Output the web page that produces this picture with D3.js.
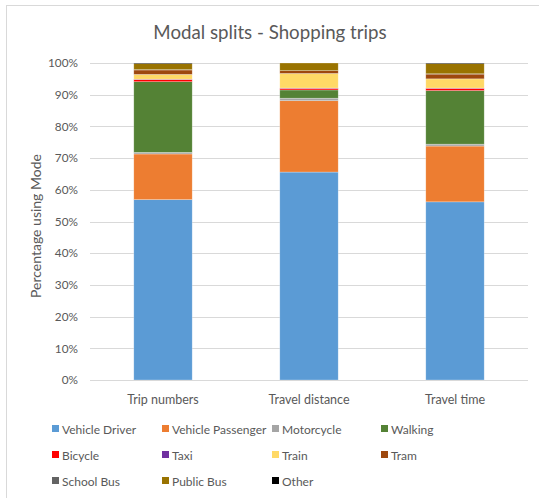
<!DOCTYPE html>
<html>
<head>
<meta charset="utf-8">
<script src="https://cdn.jsdelivr.net/npm/d3@7"></script>
<style>
  html, body { margin: 0; padding: 0; background: #fff; }
  svg { display: block; font-family: Lato, "Open Sans", sans-serif; }
</style>
</head>
<body>
<svg id="chart" width="539" height="498"></svg>
<script>
// Measures shown on the x axis
const categories = ["Trip numbers", "Travel distance", "Travel time"];

// Mode names, stacked bottom to top
const modes = ["Vehicle Driver", "Vehicle Passenger", "Motorcycle", "Walking", "Bicycle",
               "Taxi", "Train", "Tram", "School Bus", "Public Bus", "Other"];

// Percentage share per mode, one value per category
const vehicleDriver    = [56.9, 65.6, 56.2];
const vehiclePassenger = [14.4, 22.5, 17.6];
const motorcycle       = [0.5, 0.8, 0.6];
const walking          = [22.3, 2.6, 16.9];
const bicycle          = [0.7, 0.5, 0.7];
const taxi             = [0.1, 0.1, 0.1];
const train            = [1.5, 4.6, 2.9];
const tram             = [1.4, 0.9, 1.5];
const schoolBus        = [0.1, 0.0, 0.1];
const publicBus        = [1.9, 2.4, 3.2];
const other            = [0.2, 0.0, 0.2];

const yTicks = [0, 10, 20, 30, 40, 50, 60, 70, 80, 90, 100];

const colors = ["#5B9BD5", "#ED7D31", "#A5A5A5", "#548235", "#FF0000",
                "#7030A0", "#FFD966", "#9E480E", "#636363", "#997300", "#000000"];

const seriesValues = [vehicleDriver, vehiclePassenger, motorcycle, walking, bicycle,
                      taxi, train, tram, schoolBus, publicBus, other];

const rows = categories.map((c, i) => {
  const r = { category: c };
  modes.forEach((m, k) => { r[m] = seriesValues[k][i]; });
  return r;
});

const svg = d3.select("#chart");
const textColor = "#595959";
const fontFamily = "Lato, 'Open Sans', sans-serif";

// chart frame
svg.append("rect")
  .attr("x", 6.5).attr("y", 5.5).attr("width", 560).attr("height", 520)
  .attr("fill", "none").attr("stroke", "#d9d9d9").attr("stroke-width", 1);

const x = d3.scaleBand().domain(categories).range([90, 528]).paddingInner(0.6).paddingOuter(0.3);
const y = d3.scaleLinear().domain([0, 100]).range([380, 63]);

// title
svg.append("text")
  .attr("x", 270).attr("y", 39)
  .attr("text-anchor", "middle")
  .attr("font-size", 18.7)
  .attr("fill", textColor)
  .text("Modal splits - Shopping trips");

// gridlines
svg.append("g")
  .selectAll("line")
  .data(yTicks)
  .join("line")
  .attr("x1", 90).attr("x2", 528)
  .attr("y1", d => Math.round(y(d)) + 0.5)
  .attr("y2", d => Math.round(y(d)) + 0.5)
  .attr("stroke", "#d9d9d9").attr("stroke-width", 1);

// y axis labels
const yAxis = svg.append("g")
  .attr("transform", "translate(90,0)")
  .call(d3.axisLeft(y).tickValues(yTicks).tickFormat(d => d + "%").tickSize(0).tickPadding(12));
yAxis.select(".domain").remove();
yAxis.selectAll("text")
  .attr("font-family", fontFamily)
  .attr("font-size", 11.8).attr("fill", textColor);

// y axis title
svg.append("text")
  .attr("transform", "translate(41,226) rotate(-90)")
  .attr("text-anchor", "middle")
  .attr("font-size", 14)
  .attr("fill", textColor)
  .text("Percentage using Mode");

// stacked bars
const stack = d3.stack().keys(modes)(rows);
svg.append("g")
  .selectAll("g")
  .data(stack)
  .join("g")
  .attr("fill", (d, i) => colors[i])
  .selectAll("rect")
  .data(d => d)
  .join("rect")
  .attr("x", d => x(d.data.category))
  .attr("width", x.bandwidth())
  .attr("y", d => y(d[1]))
  .attr("height", d => Math.max(0, y(d[0]) - y(d[1])))
  .attr("stroke", "rgba(255,255,255,0.45)")
  .attr("stroke-width", 0.6);

// x axis line and labels
const xAxis = svg.append("g")
  .attr("transform", "translate(0,380)")
  .call(d3.axisBottom(x).tickSize(0).tickPadding(15));
xAxis.select(".domain").attr("stroke", "#d9d9d9").attr("d", "M90,0.5H528");
xAxis.selectAll("text")
  .attr("font-family", fontFamily)
  .attr("font-size", 12.5).attr("fill", textColor);

// legend, 4 columns
const legendCols = [52, 162, 272, 381];
const legendRows = [429, 455, 481];
const legend = svg.append("g")
  .selectAll("g")
  .data(modes)
  .join("g")
  .attr("transform", (d, i) => `translate(${legendCols[i % 4]},${legendRows[Math.floor(i / 4)]})`);
legend.append("rect")
  .attr("x", 0).attr("y", -4).attr("width", 7).attr("height", 7)
  .attr("fill", (d, i) => colors[i]);
legend.append("text")
  .attr("x", 10).attr("y", 4.5)
  .attr("font-size", 12)
  .attr("fill", textColor)
  .text(d => d);
</script>
</body>
</html>
